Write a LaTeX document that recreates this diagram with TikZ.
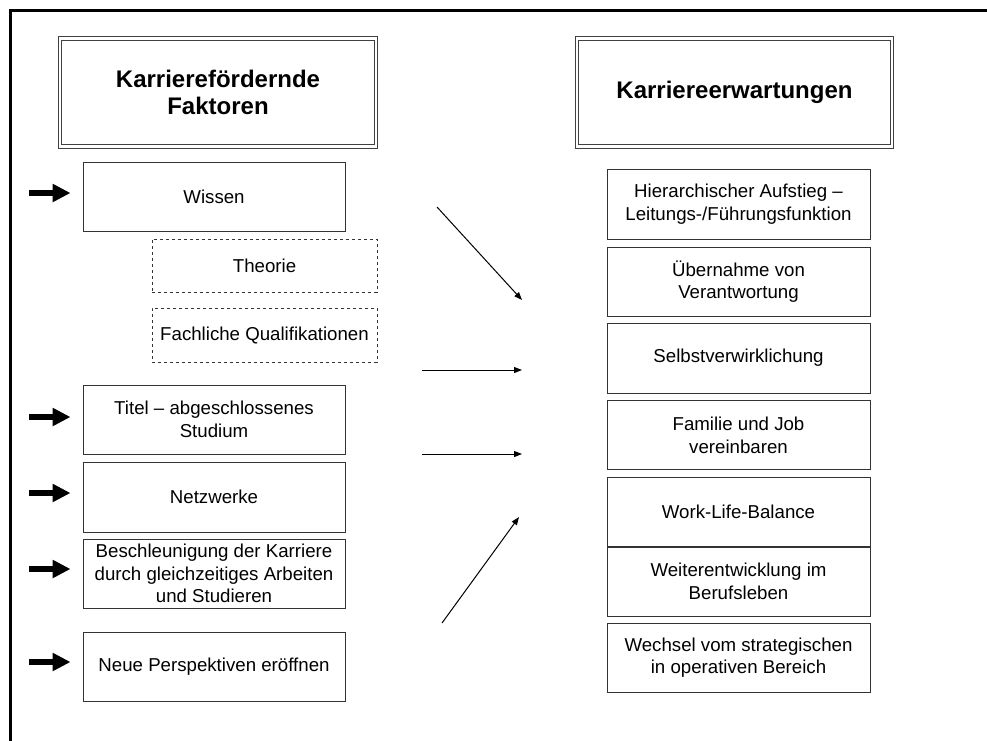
\documentclass[tikz,border=0pt]{standalone}
\usepackage{fontspec}
\setmainfont{Liberation Sans}
\usetikzlibrary{arrows.meta}
\begin{document}
\begin{tikzpicture}[x=0.75pt,y=-0.75pt,
  box/.style={draw=black!80,line width=0.75pt,inner sep=0pt,align=center,
    font=\fontsize{14pt}{17pt}\selectfont},
  lbox/.style={box,minimum width=196.5pt},
  rbox/.style={box,minimum width=197.25pt},
  dbox/.style={box,dash pattern=on 2.6pt off 1.9pt,minimum width=168.75pt},
  titlebox/.style={draw=black!75,double,line width=0.8pt,double distance=1.6pt,
    inner sep=0pt,align=center,minimum height=81pt,
    font=\fontsize{18pt}{20.5pt}\selectfont\bfseries},
  fatarrow/.style={line width=4.5pt,-{Triangle[length=13.5pt,width=13pt]}},
  thinarrow/.style={line width=0.75pt,-{Triangle[length=6pt,width=4.5pt]}}]
\useasboundingbox (0,0) rectangle (987,740);
% frame
\draw[line width=1.6pt] (10.5,745) -- (10.5,10.5) -- (992,10.5);
% titles
\node[titlebox,minimum width=237pt] (tl) at (218,92.5) {Karrierefördernde\\Faktoren};
\node[titlebox,minimum width=236.5pt] (tr) at (734.5,92.5) {Karriereerwartungen};
% left boxes
\node[lbox,minimum height=51.75pt] (wissen) at (214,196.5) {Wissen};
\node[dbox,minimum height=39.75pt] (theorie) at (264.5,265.5) {Theorie};
\node[dbox,minimum height=40.5pt] (fach) at (264.5,335) {Fachliche Qualifikationen};
\node[lbox,minimum height=51.75pt] (titel) at (214,419.5) {Titel – abgeschlossenes\\Studium};
\node[lbox,minimum height=52.5pt] (netz) at (214,497) {Netzwerke};
\node[lbox,minimum height=51.75pt] (beschl) at (214,573.5) {Beschleunigung der Karriere\\durch gleichzeitiges Arbeiten\\und Studieren};
\node[lbox,minimum height=51.75pt] (neue) at (214,666.5) {Neue Perspektiven eröffnen};
% right boxes
\node[rbox,minimum height=52.5pt] (hier) at (738.5,204) {Hierarchischer Aufstieg –\\Leitungs-/Führungsfunktion};
\node[rbox,minimum height=51.75pt] (ueber) at (738.5,281.5) {Übernahme von\\Verantwortung};
\node[rbox,minimum height=52.5pt] (selbst) at (738.5,358) {Selbstverwirklichung};
\node[rbox,minimum height=51.75pt] (fam) at (738.5,435) {Familie und Job\\vereinbaren};
\node[rbox,minimum height=52pt] (wlb) at (738.5,512) {Work-Life-Balance};
\node[rbox,minimum height=51.75pt] (weiter) at (738.5,581.5) {Weiterentwicklung im\\Berufsleben};
\node[rbox,minimum height=51.75pt] (wechsel) at (738.5,657.5) {Wechsel vom strategischen\\in operativen Bereich};
% fat arrows
\coordinate (a1) at (29,193);
\coordinate (a2) at (29,417);
\coordinate (a3) at (29,493);
\coordinate (a4) at (29,569);
\coordinate (a5) at (29,662);
\foreach \a/\b in {a1/wissen,a2/titel,a3/netz,a4/beschl,a5/neue}
  \draw[fatarrow,shorten >=9pt] (\a) -- (\a -| \b.west);
% middle arrows
\coordinate (m1s) at (437,207);
\coordinate (m1e) at (522,300);
\coordinate (m2s) at (422,370);
\coordinate (m2e) at (522,370);
\coordinate (m3s) at (422,454);
\coordinate (m3e) at (522,454);
\coordinate (m4s) at (442,623);
\coordinate (m4e) at (519,517);
\draw[thinarrow] (m1s) -- (m1e);
\draw[thinarrow] (m2s) -- (m2e);
\draw[thinarrow] (m3s) -- (m3e);
\draw[thinarrow] (m4s) -- (m4e);
\end{tikzpicture}
\end{document}
